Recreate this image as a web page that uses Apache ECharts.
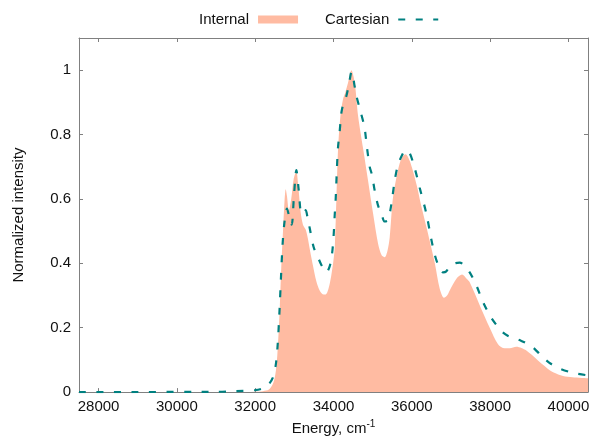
<!DOCTYPE html>
<html><head><meta charset="utf-8">
<script src="https://cdn.jsdelivr.net/npm/echarts@6/dist/echarts.min.js"></script>
<style>html,body{margin:0;padding:0;background:#fff}#c{width:594px;height:441px}</style>
</head><body><div id="c"></div>
<script>
const internalE = [27500,31500,32000,32200,32350,32450,32500,32550,32600,32630,32670,32710,32750,32780,32810,32860,32920,32980,33050,33100,33160,33220,33290,33340,33400,33480,33560,33650,33750,33800,33870,33940,34000,34035,34075,34117,34177,34243,34300,34370,34457,34543,34628,34756,34884,35012,35140,35230,35308,35380,35435,35520,35648,35750,35844,35940,36031,36130,36220,36390,36585,36713,36822,36900,36968,37139,37283,37400,37479,37734,37990,38202,38372,38500,38671,38800,38926,39182,39350,39522,39700,39862,40100,40500];
const internalI = [0,0,0.001,0.003,0.008,0.025,0.045,0.09,0.19,0.27,0.40,0.50,0.595,0.63,0.61,0.565,0.60,0.66,0.686,0.64,0.56,0.52,0.505,0.48,0.44,0.39,0.345,0.315,0.303,0.303,0.32,0.36,0.41,0.455,0.605,0.757,0.858,0.91,0.93,0.96,1.0,0.96,0.858,0.757,0.656,0.554,0.46,0.425,0.419,0.44,0.48,0.605,0.69,0.73,0.739,0.72,0.686,0.64,0.59,0.504,0.402,0.321,0.293,0.30,0.316,0.352,0.365,0.352,0.341,0.27,0.2,0.149,0.136,0.136,0.141,0.137,0.129,0.103,0.085,0.068,0.057,0.05,0.046,0.043];
const cartesianE = [27500,31000,31500,32000,32200,32350,32450,32520,32570,32620,32660,32700,32750,32812,32870,32932,32990,33052,33110,33180,33240,33290,33340,33392,33494,33600,33691,33819,33900,33954,34000,34031,34056,34089,34115,34158,34202,34260,34329,34414,34460,34498,34540,34585,34687,34760,34797,34855,34924,34983,35052,35137,35223,35308,35392,35478,35562,35647,35775,35844,35946,36073,36201,36372,36500,36584,36669,36797,36880,36968,37100,37223,37330,37479,37650,37818,38033,38288,38450,38584,38799,38950,39095,39351,39550,39777,40117,40500];
const cartesianI = [0,0.001,0.003,0.006,0.012,0.025,0.045,0.08,0.14,0.25,0.36,0.46,0.53,0.57,0.545,0.52,0.61,0.69,0.63,0.555,0.555,0.565,0.54,0.51,0.45,0.42,0.395,0.372,0.39,0.42,0.48,0.55,0.6,0.70,0.76,0.81,0.868,0.9,0.92,0.97,0.995,0.98,0.95,0.92,0.873,0.84,0.82,0.76,0.70,0.675,0.626,0.58,0.554,0.53,0.534,0.584,0.656,0.706,0.742,0.752,0.742,0.696,0.635,0.554,0.473,0.428,0.397,0.372,0.375,0.392,0.400,0.402,0.395,0.372,0.331,0.28,0.23,0.19,0.175,0.169,0.159,0.15,0.139,0.108,0.088,0.073,0.06,0.052];
const xTicks = [28000,30000,32000,34000,36000,38000,40000];
const yTicks = [0,0.2,0.4,0.6,0.8,1];
const seriesNames = ['Internal','Cartesian'];

const FONT = 'Liberation Sans';
const frame = '#808080';
const fillColor = '#ffbba2';
const lineColor = '#008080';

const internalData = internalE.map((e,i)=>[e, internalI[i]]);
const cartesianData = cartesianE.map((e,i)=>[e, cartesianI[i]]);

function xAx(pos, show){
  return {type:'value', position:pos, min:27500, max:40500,
    axisLine:{show:true, onZero:false, lineStyle:{color:frame, width:1}},
    axisTick:{show:true, inside:true, length:4, customValues:xTicks, lineStyle:{color:frame}},
    axisLabel:{show:show, customValues:xTicks, margin:7, color:'#111', fontFamily:FONT, fontSize:15, formatter:v=>String(v)},
    splitLine:{show:false},
    name: show ? 'Energy, cm{sup|-1}' : '', nameLocation:'middle', nameGap:25,
    nameTextStyle:{color:'#111', fontFamily:FONT, fontSize:15, rich:{sup:{fontSize:10, verticalAlign:'top', padding:[0,0,9,0], color:'#111', fontFamily:FONT}}}
  };
}
function yAx(pos, show){
  return {type:'value', position:pos, min:0, max:1.1,
    axisLine:{show:true, onZero:false, lineStyle:{color:frame, width:1}},
    axisTick:{show:true, inside:true, length:4, customValues:yTicks, lineStyle:{color:frame}},
    axisLabel:{show:show, customValues:yTicks, margin:8, color:'#111', fontFamily:FONT, fontSize:15, formatter:v=>String(v)},
    splitLine:{show:false},
    name: show ? 'Normalized intensity' : '', nameLocation:'middle', nameGap:53,
    nameTextStyle:{color:'#111', fontFamily:FONT, fontSize:15}
  };
}

const chart = echarts.init(document.getElementById('c'), null, {renderer:'canvas'});
chart.setOption({
  animation:false,
  backgroundColor:'#fff',
  grid:{left:79, right:6, top:38, bottom:42, containLabel:false},
  legend:{
    top:7, left:194, align:'right', itemWidth:40, itemHeight:8, itemGap:27,
    textStyle:{fontFamily:FONT, fontSize:15, color:'#111', padding:[0,4,0,0]},
    data:[{name:seriesNames[0], icon:'rect'}, {name:seriesNames[1], itemStyle:{opacity:0}}]
  },
  xAxis:[xAx('bottom', true), xAx('top', false)],
  yAxis:[yAx('left', true), yAx('right', false)],
  series:[
    {name:seriesNames[0], type:'line', data:internalData, smooth:0.3, symbol:'none',
     color:fillColor, lineStyle:{width:0, color:fillColor}, itemStyle:{color:fillColor},
     areaStyle:{color:fillColor, opacity:1}, z:1},
    {name:seriesNames[1], type:'line', data:cartesianData, smooth:0.3, symbol:'none',
     color:lineColor, lineStyle:{width:2.2, color:lineColor, type:[7,10.5], cap:'butt'}, itemStyle:{color:lineColor}, z:3}
  ]
});
</script></body></html>
